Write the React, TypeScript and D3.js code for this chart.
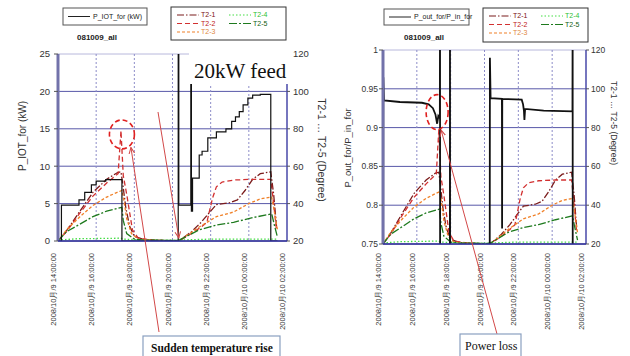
import React from "react";
import * as d3 from "d3";

// time = hours after 2008/10/9 14:00
const timeTicks = [0, 2, 4, 6, 8, 10, 12];
const timeLabels = [
  "2008/10月/9 14:00:00",
  "2008/10月/9 16:00:00",
  "2008/10月/9 18:00:00",
  "2008/10月/9 20:00:00",
  "2008/10月/9 22:00:00",
  "2008/10月/10 00:00:00",
  "2008/10月/10 02:00:00",
];

// P_IOT_for (kW), step values
const pIot: [number, number][] = [
  [0, 0], [0.18, 4.8], [1.1, 5.5], [1.4, 6.5], [1.75, 7.5], [2.0, 8], [2.5, 8.2],
  [3.35, 0], [6.3, 30], [6.33, 4.8], [6.96, 30], [6.99, 4], [7.05, 8.4], [7.4, 11.5],
  [7.55, 12], [7.85, 13.8], [8.3, 14.6], [8.8, 15], [9.1, 16], [9.3, 16.6], [9.5, 17.3],
  [9.7, 18.2], [9.95, 19.1], [10.2, 19.5], [10.6, 19.6], [11.15, 0], [11.5, 0],
];

// P_out_for / P_in_for
const ratio: [number, number][] = [
  [0, 0.5], [0.02, 0.965], [0.06, 0.935], [1, 0.933], [2.3, 0.932], [2.7, 0.93],
  [2.95, 0.925], [3.1, 0.917], [3.2, 0.905], [3.27, 0.915], [3.36, 0.912], [3.37, 1.05],
  [3.38, 0.5], [3.95, 0.5], [3.96, 1.05], [3.97, 0.5], [6.3, 0.5], [6.32, 0.99],
  [6.36, 0.938], [7.03, 0.937], [7.04, 0.77],
  [7.05, 0.937], [8.2, 0.936], [8.28, 0.93], [8.33, 0.922], [8.36, 0.91], [8.4, 0.924],
  [9.5, 0.922], [11.2, 0.921], [11.21, 1.05], [11.22, 0.5],
];

// temperatures (Degree)
const t21: [number, number][] = [
  [0, 20], [0.45, 25.5], [1.15, 36], [1.83, 46], [2.55, 53], [3.1, 56.5], [3.3, 57],
  [3.4, 50], [3.55, 38], [3.75, 28], [4.0, 22.5], [4.5, 20.8], [5.5, 20.3], [6.33, 20],
  [7.0, 25], [7.5, 30], [8.0, 36], [8.3, 39.5], [9.0, 40.5], [9.4, 42], [9.8, 47],
  [10.2, 53], [10.6, 56], [11.15, 57], [11.3, 45], [11.45, 28],
];
const t22: [number, number][] = [
  [0, 20], [0.45, 25], [1.15, 35], [1.83, 44], [2.55, 51], [2.9, 54], [3.15, 56],
  [3.3, 79], [3.42, 55], [3.6, 45], [3.9, 26], [4.2, 21.5], [5, 20.5], [6.33, 20],
  [7.0, 24], [7.5, 27.5], [7.8, 30], [8.1, 43], [8.3, 49], [8.6, 51.5], [9.2, 52.6],
  [10.2, 53], [11.15, 53], [11.3, 40], [11.45, 26],
];
const t23: [number, number][] = [
  [0, 20], [0.45, 26], [1.15, 33], [1.83, 39], [2.55, 43.5], [3.1, 46], [3.35, 47],
  [3.45, 42], [3.6, 32], [3.85, 24], [4.2, 21], [5, 20.3], [6.33, 20], [7.4, 27.5],
  [8.3, 33], [9.2, 35.5], [10.0, 40], [10.6, 42.5], [11.2, 43.5], [11.35, 35], [11.5, 26],
];
const t24: [number, number][] = [
  [0, 20.5], [1, 21.2], [3.3, 21.5], [3.4, 21], [4.5, 20.5], [6.33, 20.5], [8, 21],
  [11.5, 21],
];
const t25: [number, number][] = [
  [0, 20], [0.45, 25], [1.15, 29], [1.83, 33], [2.55, 36], [3.35, 38], [3.42, 31],
  [3.6, 24], [4.0, 21], [4.5, 20.5], [6.33, 20.3], [7.4, 26], [8.3, 28.5], [9.2, 30],
  [10.2, 32.5], [11.2, 34.5], [11.35, 28], [11.5, 22],
];

const tempSeries = [
  { name: "T2-1", data: t21, color: "#7b1c1c", text: "#7b1010", dash: "7,2,1.5,2" },
  { name: "T2-2", data: t22, color: "#d23030", text: "#c02020", dash: "5,3" },
  { name: "T2-3", data: t23, color: "#f08028", text: "#e08840", dash: "3,2" },
  { name: "T2-4", data: t24, color: "#44dd44", text: "#30c030", dash: "1.5,2" },
  { name: "T2-5", data: t25, color: "#1e7a1e", text: "#106010", dash: "8,2,2,2" },
];

const panels = [
  {
    id: "a", left: 58, right: 287, top: 54, bottom: 241,
    yDomain: [0, 25], yTicks: [0, 5, 10, 15, 20, 25], fmt: (d: number) => String(d),
    main: pIot, curve: d3.curveStepAfter, mainWidth: 1.2, tickSize: 9.5, yLabelGap: 8, y2Gap: 6,
    leftLabel: "P_IOT_for (kW)", llx: 26, lly: 136, lls: 10,
    rlx: 318, rly: 150, rls: 10.5,
    lg1: { x: 63, y: 8, w: 84, h: 17, label: "P_IOT_for (kW)" },
    lg2: { x: 171, y: 7, w: 115, h: 33 },
    title: { x: 77, y: 40 },
  },
  {
    id: "b", left: 383, right: 586, top: 50, bottom: 244,
    yDomain: [0.75, 1], yTicks: [0.75, 0.8, 0.85, 0.9, 0.95, 1],
    fmt: (d: number) => String(+d.toFixed(2)),
    main: ratio, curve: d3.curveLinear, mainWidth: 1.8, tickSize: 8.5, yLabelGap: 5, y2Gap: 5,
    leftLabel: "P_out_for/P_in_for", llx: 351, lly: 148, lls: 9.5,
    rlx: 611, rly: 123, rls: 8.5,
    lg1: { x: 384, y: 9, w: 85, h: 16, label: "P_out_for/P_in_for" },
    lg2: { x: 483, y: 8, w: 105, h: 34 },
    title: { x: 404, y: 40 },
  },
];

const sans = "Arial, 'Liberation Sans', sans-serif";
const serif = "'Times New Roman', 'Liberation Serif', serif";

function Panel({ p }: { p: any }) {
  const x = d3.scaleLinear().domain([0, 12]).range([p.left, p.right]);
  const y = d3.scaleLinear().domain(p.yDomain).range([p.bottom, p.top]);
  const yT = d3.scaleLinear().domain([20, 120]).range([p.bottom, p.top]);
  const tempLine = d3.line<[number, number]>().x(d => x(d[0])).y(d => yT(d[1]));
  const mainLine = d3.line<[number, number]>().x(d => x(d[0])).y(d => y(d[1])).curve(p.curve);
  const { lg1, lg2 } = p;

  return (
    <g>
      <defs>
        <clipPath id={"clip" + p.id}>
          <rect x={p.left} y={p.top} width={p.right - p.left} height={p.bottom - p.top} />
        </clipPath>
      </defs>
      <rect x={p.left} y={p.top} width={p.right - p.left} height={p.bottom - p.top} fill="#fff" />
      {/* grid */}
      {p.yTicks.map((t: number) => (
        <line key={"h" + t} x1={p.left} x2={p.right} y1={y(t)} y2={y(t)}
          stroke={t === p.yDomain[1] ? "#b8b8dc" : "#5858a8"} strokeWidth={1} />
      ))}
      {timeTicks.slice(1, -1).map(t => (
        <line key={"v" + t} x1={x(t)} x2={x(t)} y1={p.top} y2={p.bottom}
          stroke="#8c8cc8" strokeWidth={1} strokeDasharray="2,2" />
      ))}
      {/* series */}
      <g clipPath={`url(#clip${p.id})`}>
        {tempSeries.map(s => (
          <path key={s.name} d={tempLine(s.data) || ""} fill="none" stroke={s.color}
            strokeWidth={1.3} strokeDasharray={s.dash} />
        ))}
        <path d={mainLine(p.main) || ""} fill="none" stroke="#111" strokeWidth={p.mainWidth} />
      </g>
      {/* axes */}
      <line x1={p.left} x2={p.left} y1={p.top} y2={p.bottom} stroke="#7272aa" strokeWidth={3} />
      <line x1={p.right} x2={p.right} y1={p.top} y2={p.bottom} stroke="#4848a8" strokeWidth={1.5} />
      <line x1={p.left} x2={p.right} y1={p.bottom} y2={p.bottom} stroke="#30309a" strokeWidth={1.5} />
      {p.yTicks.map((t: number) => (
        <g key={"yl" + t} fontFamily={sans} fontSize={p.tickSize} fill="#333">
          <line x1={p.left - 4} x2={p.left} y1={y(t)} y2={y(t)} stroke="#555" />
          <text x={p.left - p.yLabelGap} y={y(t)} dy="0.35em" textAnchor="end">{p.fmt(t)}</text>
        </g>
      ))}
      {yT.ticks(5).map(t => (
        <g key={"yr" + t} fontFamily={sans} fontSize={p.tickSize} fill="#333">
          <line x1={p.right} x2={p.right + 3} y1={yT(t)} y2={yT(t)} stroke="#555" />
          <text x={p.right + p.y2Gap} y={yT(t)} dy="0.35em">{t}</text>
        </g>
      ))}
      {timeTicks.map((t, i) => (
        <text key={"x" + t} transform={`translate(${x(t) - 2},253) rotate(-90)`}
          textAnchor="end" fontFamily={sans} fontSize={7.5} fill="#333">{timeLabels[i]}</text>
      ))}
      <text transform={`translate(${p.llx},${p.lly}) rotate(-90)`} textAnchor="middle"
        fontFamily={sans} fontSize={p.lls} fill="#333">{p.leftLabel}</text>
      <text transform={`translate(${p.rlx},${p.rly}) rotate(90)`} textAnchor="middle"
        fontFamily={sans} fontSize={p.rls} fill="#333">T2-1 … T2-5 (Degree)</text>
      {/* legends */}
      <rect x={lg1.x} y={lg1.y} width={lg1.w} height={lg1.h} fill="#fff" stroke="#555" />
      <line x1={lg1.x + 5} x2={lg1.x + 27} y1={lg1.y + lg1.h / 2} y2={lg1.y + lg1.h / 2}
        stroke="#222" strokeWidth={1} />
      <text x={lg1.x + 30} y={lg1.y + lg1.h / 2} dy="0.35em" fontFamily={sans} fontSize={7}
        fill="#222">{lg1.label}</text>
      <text x={p.title.x} y={p.title.y} fontFamily={sans} fontSize={8} fontWeight="bold"
        fill="#222">081009_all</text>
      <rect x={lg2.x} y={lg2.y} width={lg2.w} height={lg2.h} fill="#fff" stroke="#333" />
      {tempSeries.map((s, i) => {
        const col = i < 3 ? 0 : 1;
        const row = i < 3 ? i : i - 3;
        const lx = lg2.x + (col === 0 ? 6 : 58);
        const ly = lg2.y + 8 + row * 8.5;
        return (
          <g key={"lg" + s.name}>
            <line x1={lx} x2={lx + 22} y1={ly} y2={ly} stroke={s.color} strokeWidth={1.2}
              strokeDasharray={s.dash} />
            <text x={lx + 24} y={ly} dy="0.35em" fontFamily={sans} fontSize={7}
              fill={s.text}>{s.name}</text>
          </g>
        );
      })}
    </g>
  );
}

export default function App() {
  const xa = d3.scaleLinear().domain([0, 12]).range([panels[0].left, panels[0].right]);
  const ya = d3.scaleLinear().domain([20, 120]).range([panels[0].bottom, panels[0].top]);
  const yk = d3.scaleLinear().domain([0, 25]).range([panels[0].bottom, panels[0].top]);
  const xb = d3.scaleLinear().domain([0, 12]).range([panels[1].left, panels[1].right]);
  const yb = d3.scaleLinear().domain([0.75, 1]).range([panels[1].bottom, panels[1].top]);
  const red = "#d24848";
  return (
    <svg width={630} height={356} style={{ position: "absolute", left: 0, top: 0, background: "#fff" }}>
      <defs>
        <marker id="arr" viewBox="0 0 10 10" refX="9" refY="5" markerWidth="7" markerHeight="7"
          orient="auto-start-reverse">
          <path d="M0,1 L9,5 L0,9" fill="none" stroke={red} strokeWidth={1.5} />
        </marker>
      </defs>
      <rect width={630} height={356} fill="#fff" />
      {panels.map(p => <Panel key={p.id} p={p} />)}

      {/* annotations */}
      <rect x={189} y={53} width={103} height={31} fill="#fff" />
      <text x={194} y={78} fontFamily={serif} fontSize={21} fill="#111">20kW feed</text>

      <ellipse cx={xa(3.35)} cy={ya(77)} rx={12.5} ry={14.5} fill="none" stroke="#e02020"
        strokeWidth={1.6} strokeDasharray="5,3" />
      <line x1={158} y1={112} x2={xa(6.33)} y2={yk(0) - 3} stroke={red} strokeWidth={1}
        markerEnd="url(#arr)" />
      <line x1={159} y1={332} x2={xa(3.35) + 9} y2={ya(77) + 13} stroke={red} strokeWidth={1}
        markerEnd="url(#arr)" />
      <rect x={143} y={336} width={137} height={26} fill="#fff" stroke="#8aa0c0" strokeWidth={1.2} />
      <text x={151} y={352} fontFamily={serif} fontSize={11.5} fontWeight="bold" fill="#111">
        Sudden temperature rise
      </text>

      <ellipse cx={xb(3.2)} cy={yb(0.92)} rx={11} ry={17.5} fill="none" stroke="#e02020"
        strokeWidth={1.6} strokeDasharray="5,3" />
      <line x1={497} y1={334} x2={xb(3.2) + 4} y2={yb(0.92) + 18} stroke={red} strokeWidth={1}
        markerEnd="url(#arr)" />
      <rect x={460} y={334} width={61} height={26} fill="#fff" stroke="#8aa0c0" strokeWidth={1.2} />
      <text x={465} y={350} fontFamily={serif} fontSize={12} fill="#111">Power loss</text>
    </svg>
  );
}
